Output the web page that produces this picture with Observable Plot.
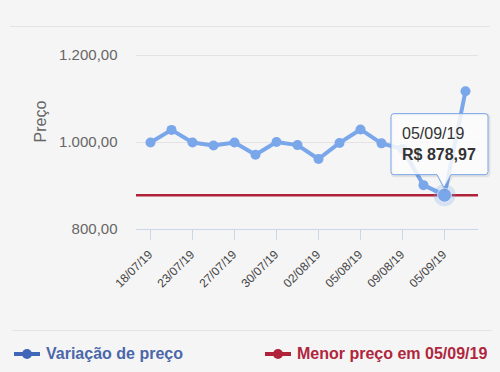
<!DOCTYPE html>
<html><head><meta charset="utf-8">
<script src="https://cdn.jsdelivr.net/npm/d3@7"></script>
<script src="https://cdn.jsdelivr.net/npm/@observablehq/plot@0.6"></script>
<style>
html,body{margin:0;padding:0;background:#f5f5f5;font-family:"Liberation Sans",Arial,sans-serif;}
#wrap{position:relative;width:500px;height:372px;overflow:hidden;}
.hr{position:absolute;height:1px;background:#e4e4e4;}
#legend{position:relative;width:500px;height:37px;}
.item{position:absolute;top:10px;display:flex;align-items:center;font-weight:bold;font-size:16px;white-space:nowrap;}
.item svg{margin-right:6px;}
</style></head><body>
<div id="wrap">
  <div class="hr" style="top:26px;left:10px;width:480px"></div>
  <div class="hr" style="top:330px;left:12px;width:480px"></div>
  <div id="chart"></div>
  <div id="legend"></div>
</div>
<script>
const dates = ["18/07/19","20/07/19","23/07/19","25/07/19","27/07/19","29/07/19","30/07/19","31/07/19","02/08/19","04/08/19","05/08/19","07/08/19","09/08/19","12/08/19","05/09/19","06/09/19"];
const prices = [1000,1029,1000,993,1000,972,1001,994,962,999,1030,998,985,902,878.97,1118];
const tickDates = ["18/07/19","23/07/19","27/07/19","30/07/19","02/08/19","05/08/19","09/08/19","05/09/19"];
const yTicks = [800,1000,1200];
const seriesNames = ["Variação de preço","Menor preço em 05/09/19"];
const seriesColors = ["#7aa6ea","#b0213a"];
const legendText = ["#4b67aa","#b0263c"];
const legendSymbol = ["#4066b8","#b0213a"];

const data = dates.map((d,i)=>({date:d, price:prices[i]}));
const minIdx = prices.indexOf(d3.min(prices));
const minPt = data[minIdx];

const loc = d3.formatLocale({decimal:",", thousands:".", grouping:[3], currency:["R$ ",""]});
const fmt = loc.format(",.2f");

const chart = Plot.plot({
  width:500, height:335,
  marginLeft:136, marginRight:22, marginTop:55, marginBottom:106,
  style:{fontFamily:"Liberation Sans, Arial, sans-serif", background:"transparent", color:"#666"},
  x:{type:"point", domain:dates, padding:0.5},
  y:{domain:[800,1200]},
  marks:[
    Plot.gridY([1000,1200], {stroke:"#e3e3e3", strokeOpacity:1}),
    Plot.ruleY([800], {stroke:"#ccd6eb", strokeWidth:1.2}),
    Plot.axisX({ticks:tickDates, tickRotate:-45, tickSize:11, tickPadding:12, stroke:"#ccd6eb", strokeOpacity:1, fontSize:12, fill:"#444", label:null}),
    Plot.axisY({ticks:yTicks, tickSize:0, tickPadding:19, tickFormat:fmt, fontSize:15, fill:"#666", label:null}),
    Plot.text(["Preço"], {frameAnchor:"left", dx:-96, rotate:-90, fontSize:16, fill:"#666"}),
    Plot.ruleY([minPt.price], {stroke:seriesColors[1], strokeWidth:2.5}),
    Plot.line(data, {x:"date", y:"price", stroke:seriesColors[0], strokeWidth:4}),
    Plot.dot(data, {x:"date", y:"price", r:5, fill:seriesColors[0]}),
    Plot.dot([minPt], {x:"date", y:"price", r:11, fill:seriesColors[0], fillOpacity:0.25}),
    Plot.dot([minPt], {x:"date", y:"price", r:7, fill:seriesColors[0], stroke:"#fff", strokeOpacity:0.6, strokeWidth:1})
  ]
});
document.getElementById("chart").appendChild(chart);

// tooltip anchored through the plot's own scales
const ax = chart.scale("x").apply(minPt.date);
const ay = chart.scale("y").apply(minPt.price);
const svg = d3.select(chart);
const L = ax-53, R = ax+44, T = ay-81, B = ay-20;
const path = `M${L+3},${T} H${R-3} Q${R},${T} ${R},${T+3} V${B-3} Q${R},${B} ${R-3},${B} H${ax+7} L${ax},${ay-7} L${ax-7},${B} H${L+3} Q${L},${B} ${L},${B-3} V${T+3} Q${L},${T} ${L+3},${T} Z`;
const tip = svg.append("g").attr("text-anchor","start");
tip.append("path").attr("d",path).attr("transform","translate(1,1)").attr("fill","none").attr("stroke","#000").attr("stroke-opacity",0.08).attr("stroke-width",3);
tip.append("path").attr("d",path).attr("fill","#fbfbfb").attr("fill-opacity",0.85).attr("stroke","#7aa6ea").attr("stroke-width",1);
tip.append("text").attr("x",ax-42).attr("y",ay-56).attr("font-size",16).attr("fill","#333").attr("font-family","Liberation Sans, Arial, sans-serif").text(minPt.date);
tip.append("text").attr("x",ax-42).attr("y",ay-35).attr("font-size",16).attr("font-weight","bold").attr("fill","#333").attr("font-family","Liberation Sans, Arial, sans-serif").text(loc.format("$,.2f")(minPt.price));

// legend
const legend = d3.select("#legend");
const lefts = [14, 265];
seriesNames.forEach((name,i)=>{
  const it = legend.append("div").attr("class","item").style("left",lefts[i]+"px").style("color",legendText[i]);
  const s = it.append("svg").attr("width",26).attr("height",14);
  s.append("line").attr("x1",0).attr("x2",26).attr("y1",7).attr("y2",7).attr("stroke",legendSymbol[i]).attr("stroke-width",4);
  s.append("circle").attr("cx",13).attr("cy",7).attr("r",5).attr("fill",legendSymbol[i]);
  it.append("span").text(name);
});
</script>
</body></html>
